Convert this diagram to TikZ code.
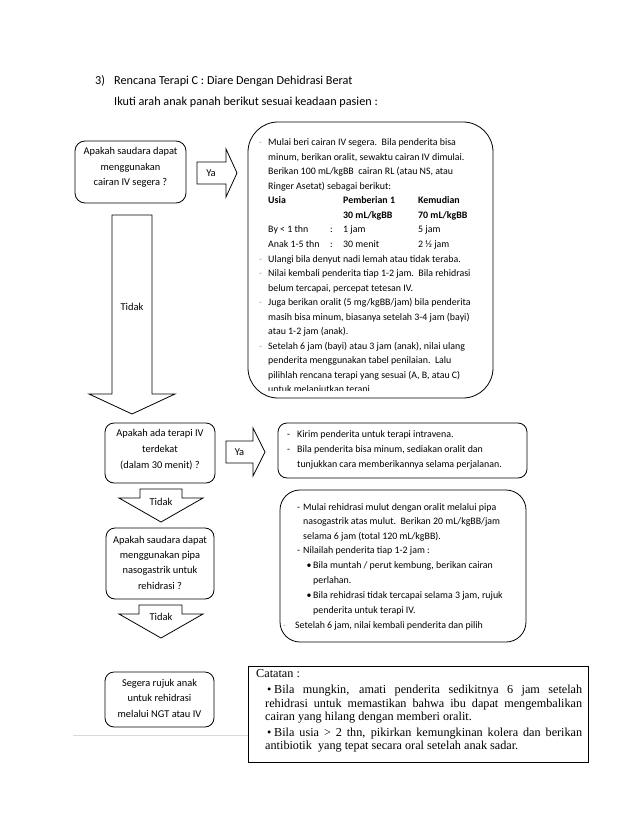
\documentclass[tikz,border=0pt]{standalone}
\usepackage{fontspec}
\setmainfont{Carlito}
\newfontfamily\tnr{Liberation Serif}
\begin{document}
\begin{tikzpicture}[x=1pt,y=-1pt,
  outline/.style={draw=black, line width=0.8pt},
  rbox/.style={outline, rounded corners=#1, inner sep=0},
  ftxt/.style={font=\fontsize{9.9}{11}\selectfont, inner sep=0, anchor=base west},
  btxt/.style={ftxt, font=\bfseries\fontsize{9.9}{11}\selectfont},
  ctxt/.style={font=\fontsize{10.4}{11}\selectfont, inner sep=0, anchor=base},
  arrowlbl/.style={font=\fontsize{10.5}{12}\selectfont, inner sep=0},
  dashmark/.style={ftxt, text=black!35},
  ttxt/.style={font=\tnr\fontsize{12.2}{13}\selectfont, inner sep=0, anchor=base west},
  htxt/.style={font=\fontsize{12.2}{13}\selectfont, inner sep=0, anchor=base west},
  ]
\useasboundingbox (0,0) rectangle (638,826);
\fill[white] (0,0) rectangle (638,826);

% title
\node[htxt] (num) at (95,85) {3)};
\node[htxt] (title) at (114,85) {Rencana Terapi C : Diare Dengan Dehidrasi Berat};
\node[htxt] (sub) at (114,106) {Ikuti arah anak panah berikut sesuai keadaan pasien :};

% box 1
\node[rbox=10pt, minimum width=111pt, minimum height=62pt] (q1) at (130.5,172) {};
\foreach \y/\s [count=\i] in {155/{Apakah saudara dapat}, 170.5/{menggunakan}, 186/{cairan IV segera ?}}
  \node[ctxt] (q1t\i) at (130.5,\y) {\s};

% Ya arrow 1
\draw[outline, line join=miter] (197,162) -- (226,162) -- (226,149) -- (237,173) -- (226,197) -- (226,184) -- (197,184) -- cycle;
\node[arrowlbl] (ya1) at (211,173) {Ya};

% box 2
\node[rbox=30pt, minimum width=245pt, minimum height=276pt] (b2) at (370.5,260) {};
\begin{scope}
\clip (248,122) rectangle (493,390);
\foreach \y/\s [count=\i] in {
  146/{Mulai beri cairan IV segera.\ \ Bila penderita bisa},
  160.5/{minum, berikan oralit, sewaktu cairan IV dimulai.},
  175/{Berikan 100 mL/kgBB\ \ cairan RL (atau NS, atau},
  189.5/{Ringer Asetat) sebagai berikut:},
  262/{Ulangi bila denyut nadi lemah atau tidak teraba.},
  276.5/{Nilai kembali penderita tiap 1-2 jam.\ \ Bila rehidrasi},
  291/{belum tercapai, percepat tetesan IV.},
  305.5/{Juga berikan oralit (5 mg/kgBB/jam) bila penderita},
  320/{masih bisa minum, biasanya setelah 3-4 jam (bayi)},
  334.5/{atau 1-2 jam (anak).},
  349/{Setelah 6 jam (bayi) atau 3 jam (anak), nilai ulang},
  363.5/{penderita menggunakan tabel penilaian.\ \ Lalu},
  378/{pilihlah rencana terapi yang sesuai (A, B, atau C)},
  392.5/{untuk melanjutkan terapi}}
  \node[ftxt] (b2t\i) at (268,\y) {\s};
\foreach \y [count=\i] in {146,262,276.5,305.5,349}
  \node[dashmark] (b2m\i) at (259,\y) {-};
% table
\node[btxt] (tu) at (268,204) {Usia};
\node[btxt] (tp) at (343,204) {Pemberian 1};
\node[btxt] (tk) at (418,204) {Kemudian};
\node[btxt] (tp2) at (343,218.5) {30 mL/kgBB};
\node[btxt] (tk2) at (418,218.5) {70 mL/kgBB};
\node[ftxt] (r1a) at (268,233) {By < 1 thn};
\node[ftxt] (r1b) at (330,233) {:};
\node[ftxt] (r1c) at (343,233) {1 jam};
\node[ftxt] (r1d) at (418,233) {5 jam};
\node[ftxt] (r2a) at (268,247.5) {Anak 1-5 thn};
\node[ftxt] (r2b) at (330,247.5) {:};
\node[ftxt] (r2c) at (343,247.5) {30 menit};
\node[ftxt] (r2d) at (418,247.5) {2 ½ jam};
\end{scope}

% big Tidak arrow
\draw[outline, line join=miter] (112,215) -- (152,215) -- (152,394) -- (175,394) -- (132,414) -- (89,394) -- (112,394) -- cycle;
\node[arrowlbl] (td1) at (132,307) {Tidak};

% box 3
\node[rbox=9pt, minimum width=110pt, minimum height=60pt] (q2) at (160,453) {};
\foreach \y/\s [count=\i] in {436/{Apakah ada terapi IV}, 452/{terdekat}, 468/{(dalam 30 menit) ?}}
  \node[ctxt] (q2t\i) at (160,\y) {\s};

% Ya arrow 2
\draw[outline, line join=miter] (226,441) -- (253,441) -- (253,428) -- (265,452) -- (253,476) -- (253,463) -- (226,463) -- cycle;
\node[arrowlbl] (ya2) at (239.5,452) {Ya};

% box 4
\node[rbox=9pt, minimum width=249pt, minimum height=55pt] (b4) at (402.5,450.5) {};
\node[ftxt] (b4m1) at (287,437) {-};
\node[ftxt] (b4m2) at (287,452) {-};
\node[ftxt] (b4t1) at (297,437) {Kirim penderita untuk terapi intravena.};
\node[ftxt] (b4t2) at (297,452) {Bila penderita bisa minum, sediakan oralit dan};
\node[ftxt] (b4t3) at (297,467) {tunjukkan cara memberikannya selama perjalanan.};

% Tidak arrow 2
\draw[outline, line join=miter] (140,489) -- (182,489) -- (182,498) -- (203,498) -- (161,522) -- (119,498) -- (140,498) -- cycle;
\node[arrowlbl] (td2) at (161,502) {Tidak};

% box 5
\node[rbox=9pt, minimum width=108pt, minimum height=71pt] (q3) at (160,563.5) {};
\foreach \y/\s [count=\i] in {543.5/{Apakah saudara dapat}, 558.5/{menggunakan pipa}, 573.5/{nasogastrik untuk}, 589/{rehidrasi ?}}
  \node[ctxt] (q3t\i) at (160,\y) {\s};

% box 6
\node[rbox=20pt, minimum width=246pt, minimum height=152pt] (b6) at (403,566) {};
\node[ftxt] (b6m1) at (297,510) {-};
\node[ftxt] (b6t1) at (303,510) {Mulai rehidrasi mulut dengan oralit melalui pipa};
\node[ftxt] (b6t2) at (303,524.5) {nasogastrik atas mulut.\ \ Berikan 20 mL/kgBB/jam};
\node[ftxt] (b6t3) at (303,539) {selama 6 jam (total 120 mL/kgBB).};
\node[ftxt] (b6m2) at (297,553.5) {-};
\node[ftxt] (b6t4) at (303,553.5) {Nilailah penderita tiap 1-2 jam :};
\node[ftxt] (b6b1) at (306.5,568) {•};
\node[ftxt] (b6t5) at (313,568) {Bila muntah / perut kembung, berikan cairan};
\node[ftxt] (b6t6) at (313,583) {perlahan.};
\node[ftxt] (b6b2) at (306.5,598) {•};
\node[ftxt] (b6t7) at (313,598) {Bila rehidrasi tidak tercapai selama 3 jam, rujuk};
\node[ftxt] (b6t8) at (313,613) {penderita untuk terapi IV.};
\node[dashmark] (b6m3) at (283,628) {-};
\node[ftxt] (b6t9) at (295,628) {Setelah 6 jam, nilai kembali penderita dan pilih};

% Tidak arrow 3
\draw[outline, line join=miter] (139,605) -- (182,605) -- (182,614) -- (203,614) -- (161,638) -- (119,614) -- (139,614) -- cycle;
\node[arrowlbl] (td3) at (161,617) {Tidak};

% box 7
\node[rbox=9pt, minimum width=109pt, minimum height=55pt] (q4) at (159.5,699.5) {};
\foreach \y/\s [count=\i] in {686/{Segera rujuk anak}, 701.5/{untuk rehidrasi}, 717/{melalui NGT atau IV}}
  \node[ctxt] (q4t\i) at (159.5,\y) {\s};

% faint line
\draw[black!15, line width=0.6pt] (73,735) -- (248,735);

% Catatan box
\node[outline, inner sep=0, minimum width=340pt, minimum height=96pt] (cat) at (418,714) {};
\node[ttxt] (c0) at (256,677) {Catatan :};
\node[ttxt] (cb1) at (267,693) {•};
\node[ttxt] (c1) at (274,693) {\makebox[308pt][s]{Bila mungkin, amati penderita sedikitnya 6 jam setelah}};
\node[ttxt] (c2) at (265,707) {\makebox[317pt][s]{rehidrasi untuk memastikan bahwa ibu dapat mengembalikan}};
\node[ttxt] (c3) at (265,720.5) {cairan yang hilang dengan memberi oralit.};
\node[ttxt] (cb2) at (267,736) {•};
\node[ttxt] (c4) at (274,736) {\makebox[308pt][s]{Bila usia > 2 thn, pikirkan kemungkinan kolera dan berikan}};
\node[ttxt] (c5) at (265,749.5) {antibiotik\ \ yang tepat secara oral setelah anak sadar.};
\end{tikzpicture}
\end{document}
